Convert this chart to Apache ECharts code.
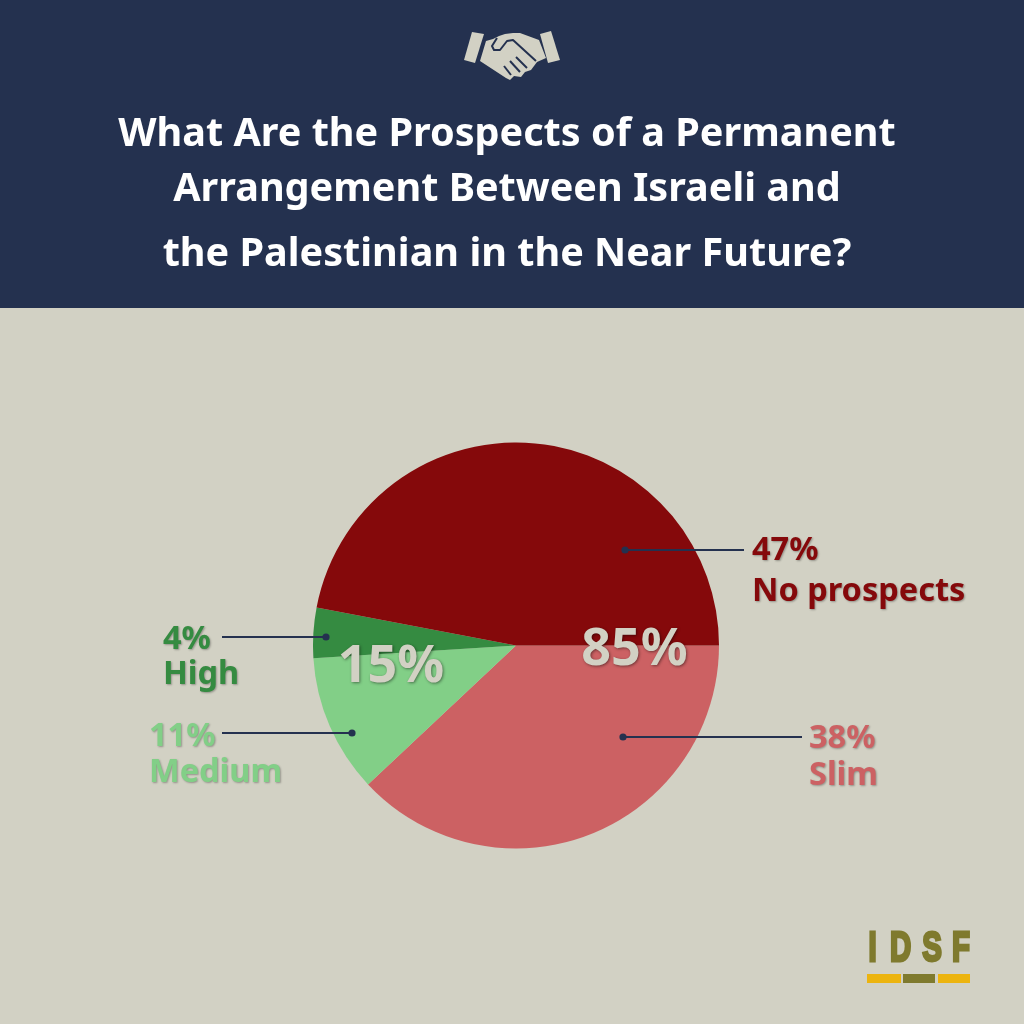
<!DOCTYPE html>
<html><head><meta charset="utf-8">
<style>html,body{margin:0;padding:0;background:#d2d1c4}#c{width:1024px;height:1024px}</style>
<script src="https://cdn.jsdelivr.net/npm/echarts@6/dist/echarts.min.js"></script>
</head><body><div id="c"></div>
<script>
const categories = ['Slim', 'Medium', 'High', 'No prospects'];
const values = [38, 11, 4, 47];
const sliceColors = ['#cc6163', '#82cf87', '#358b41', '#85090b'];
const titleLines = ['What Are the Prospects of a Permanent', 'Arrangement Between Israeli and', 'the Palestinian in the Near Future?'];
const groupTotals = ['85%', '15%'];
const logoLetters = ['I', 'D', 'S', 'F'];

const FONT = '"Noto Sans", sans-serif';
const NAVY = '#24314f', BG = '#d2d1c4', OLIVE = '#7f7a2e', GOLD = '#ecb40f';
const labelPos = [[809, 720], [149, 719], [163, 622], [752, 530]];
const labelLineHeights = [37, 36, 35, 41];
const leaders = [[623, 737, 802], [352, 733, 222], [326, 637, 222], [625, 550, 744]];
const titleY = [135, 190, 255];

const g = [];
g.push({type: 'rect', z: -1, shape: {x: 0, y: 0, width: 1024, height: 308}, style: {fill: NAVY}});
titleLines.forEach((t, i) => g.push({type: 'text', x: 507, y: titleY[i], style: {
  text: t, fill: '#fff', fontFamily: FONT, fontWeight: 'bold', fontSize: 39.6, align: 'center', verticalAlign: 'middle'}}));

// handshake icon
const ICON = '#d2d1c4';
g.push({type: 'polygon', shape: {points: [[472, 32], [484, 34], [475, 63], [464, 60]]}, style: {fill: ICON}});
g.push({type: 'polygon', shape: {points: [[540, 34], [551, 31], [560, 60], [548, 63]]}, style: {fill: ICON}});
g.push({type: 'polygon', shape: {points: [[486, 41], [493, 39], [499, 36], [505, 34], [513, 33], [520, 33], [539, 40], [546, 58], [537, 62], [531, 70], [525, 72], [521, 77], [514, 76], [510, 80], [506, 78], [480, 61]]}, style: {fill: ICON}});
[
  [[497, 38], [492, 46], [494, 50], [500, 50], [507, 41], [513, 40], [536, 61]],
  [[516, 57], [527, 68]],
  [[510, 61], [520, 72]],
  [[504, 66], [511, 75]]
].forEach(p => g.push({type: 'polyline', shape: {points: p}, style: {stroke: NAVY, lineWidth: 2, fill: null, lineJoin: 'round'}}));

// leader lines
leaders.forEach(l => {
  g.push({type: 'line', z: 20, shape: {x1: l[0], y1: l[1], x2: l[2], y2: l[1]}, style: {stroke: NAVY, lineWidth: 2.2}});
  g.push({type: 'circle', z: 20, shape: {cx: l[0], cy: l[1], r: 3.6}, style: {fill: NAVY}});
});

// group totals
[[634.5, 650], [391, 667]].forEach((p, i) => g.push({type: 'text', z: 21, x: p[0], y: p[1], style: {
  text: groupTotals[i], fill: BG, fontFamily: FONT, fontWeight: 'bold', fontSize: 52, align: 'center', verticalAlign: 'middle',
  textShadowColor: 'rgba(0,0,0,0.45)', textShadowBlur: 3, textShadowOffsetX: 1, textShadowOffsetY: 1}}));

// logo
[872.5, 900.5, 932, 961].forEach((x, i) => g.push({type: 'text', x: x, y: 949.5, scaleX: 0.7, style: {
  text: logoLetters[i], fill: OLIVE, stroke: OLIVE, lineWidth: 3, fontFamily: '"Liberation Sans", sans-serif',
  fontWeight: 'bold', fontSize: 42, align: 'center', verticalAlign: 'middle'}}));
[[867, 34, GOLD], [903, 32, OLIVE], [938, 32, GOLD]].forEach(b => g.push({type: 'rect',
  shape: {x: b[0], y: 974, width: b[1], height: 9}, style: {fill: b[2]}}));

const chart = echarts.init(document.getElementById('c'), null, {renderer: 'canvas'});
chart.setOption({
  backgroundColor: BG,
  animation: false,
  graphic: g,
  series: [{
    type: 'pie',
    center: [516, 645.5],
    radius: [0, 203],
    startAngle: 0,
    clockwise: true,
    silent: true,
    data: categories.map((n, i) => ({
      name: n, value: values[i], itemStyle: {color: sliceColors[i]},
      label: {color: sliceColors[i], lineHeight: labelLineHeights[i]}
    })),
    label: {
      show: true,
      formatter: p => p.value + '%\n' + p.name,
      fontFamily: FONT, fontWeight: 'bold', fontSize: 32.5,
      align: 'left',
      textShadowColor: 'rgba(0,0,0,0.3)', textShadowBlur: 2, textShadowOffsetX: 1, textShadowOffsetY: 1
    },
    labelLine: {show: false},
    labelLayout: p => ({x: labelPos[p.dataIndex][0], y: labelPos[p.dataIndex][1] + labelLineHeights[p.dataIndex], align: 'left', verticalAlign: 'middle', hideOverlap: false})
  }]
});
</script></body></html>
